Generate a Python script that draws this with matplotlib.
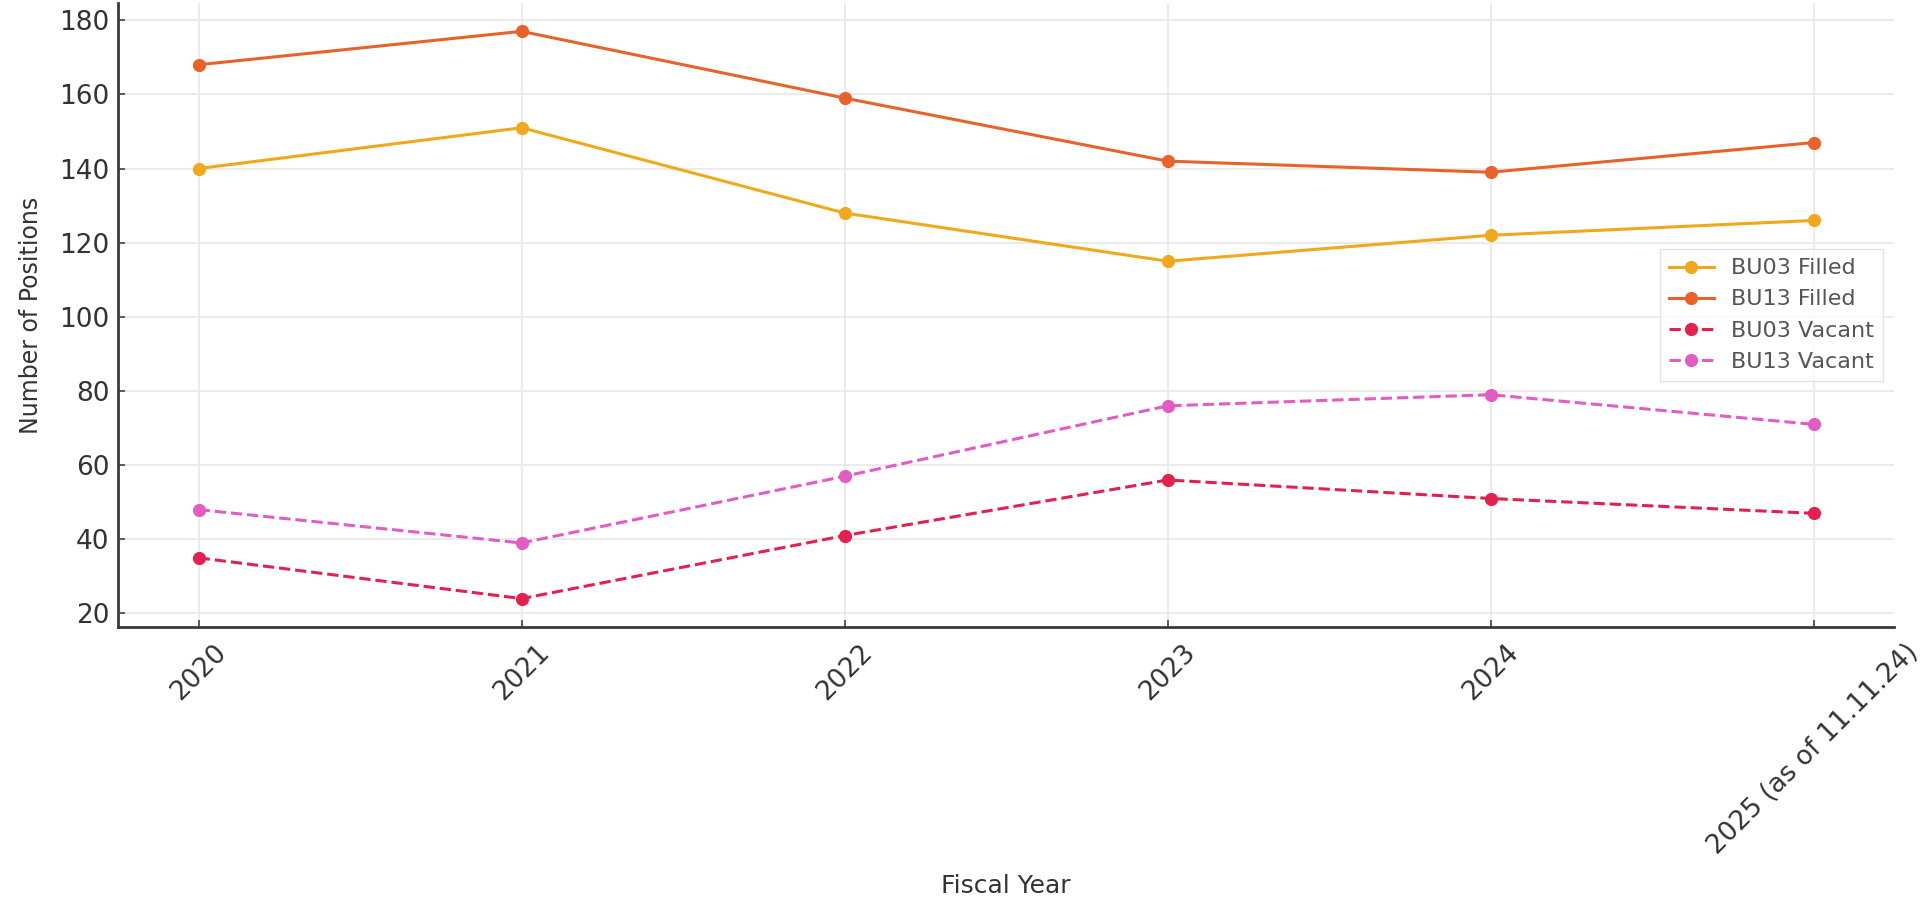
import matplotlib
matplotlib.use("Agg")
import matplotlib.pyplot as plt

# Data
fiscal_years = ["2020", "2021", "2022", "2023", "2024", "2025 (as of 11.11.24)"]
bu03_filled = [140, 151, 128, 115, 122, 126]
bu13_filled = [168, 177, 159, 142, 139, 147]
bu03_vacant = [35, 24, 41, 56, 51, 47]
bu13_vacant = [48, 39, 57, 76, 79, 71]

plt.rcParams["font.family"] = ["DejaVu Sans"]

fig = plt.figure(figsize=(19.33, 9.08), dpi=100)
ax = fig.add_axes([0.061, 0.3095, 0.919, 0.6872])

x = range(len(fiscal_years))
ax.plot(x, bu03_filled, marker="o", linestyle="-", color="#F0A81C",
        linewidth=2.2, markersize=8.5, label="BU03 Filled")
ax.plot(x, bu13_filled, marker="o", linestyle="-", color="#E8622C",
        linewidth=2.2, markersize=8.5, label="BU13 Filled")
ax.plot(x, bu03_vacant, marker="o", linestyle="--", color="#E2214E",
        linewidth=2.2, markersize=8.5, label="BU03 Vacant")
ax.plot(x, bu13_vacant, marker="o", linestyle="--", color="#E25CC2",
        linewidth=2.2, markersize=8.5, label="BU13 Vacant")

ax.set_xticks(list(x))
ax.set_xticklabels(fiscal_years, rotation=45)
ax.set_yticks([20, 40, 60, 80, 100, 120, 140, 160, 180])

ax.set_xlabel("Fiscal Year", fontsize=18, color="#333333", labelpad=10)
ax.set_ylabel("Number of Positions", fontsize=17, color="#333333", labelpad=12)
ax.tick_params(axis="both", labelsize=19, labelcolor="#333333",
               direction="in", length=5, width=1.2, color="#444444")
ax.tick_params(axis="x", pad=9)
ax.tick_params(axis="y", pad=6)

ax.grid(True, color="#E8E8E8", linewidth=1.2)
ax.set_axisbelow(True)
for side in ["top", "right"]:
    ax.spines[side].set_visible(False)
for side in ["left", "bottom"]:
    ax.spines[side].set_color("#3A3A3A")
    ax.spines[side].set_linewidth(2.0)

leg = ax.legend(loc="center right", fontsize=16, frameon=True, fancybox=False)
leg.get_frame().set_edgecolor("#DDDDDD")
for t in leg.get_texts():
    t.set_color("#555555")

fig.savefig("out.png", dpi=100)
